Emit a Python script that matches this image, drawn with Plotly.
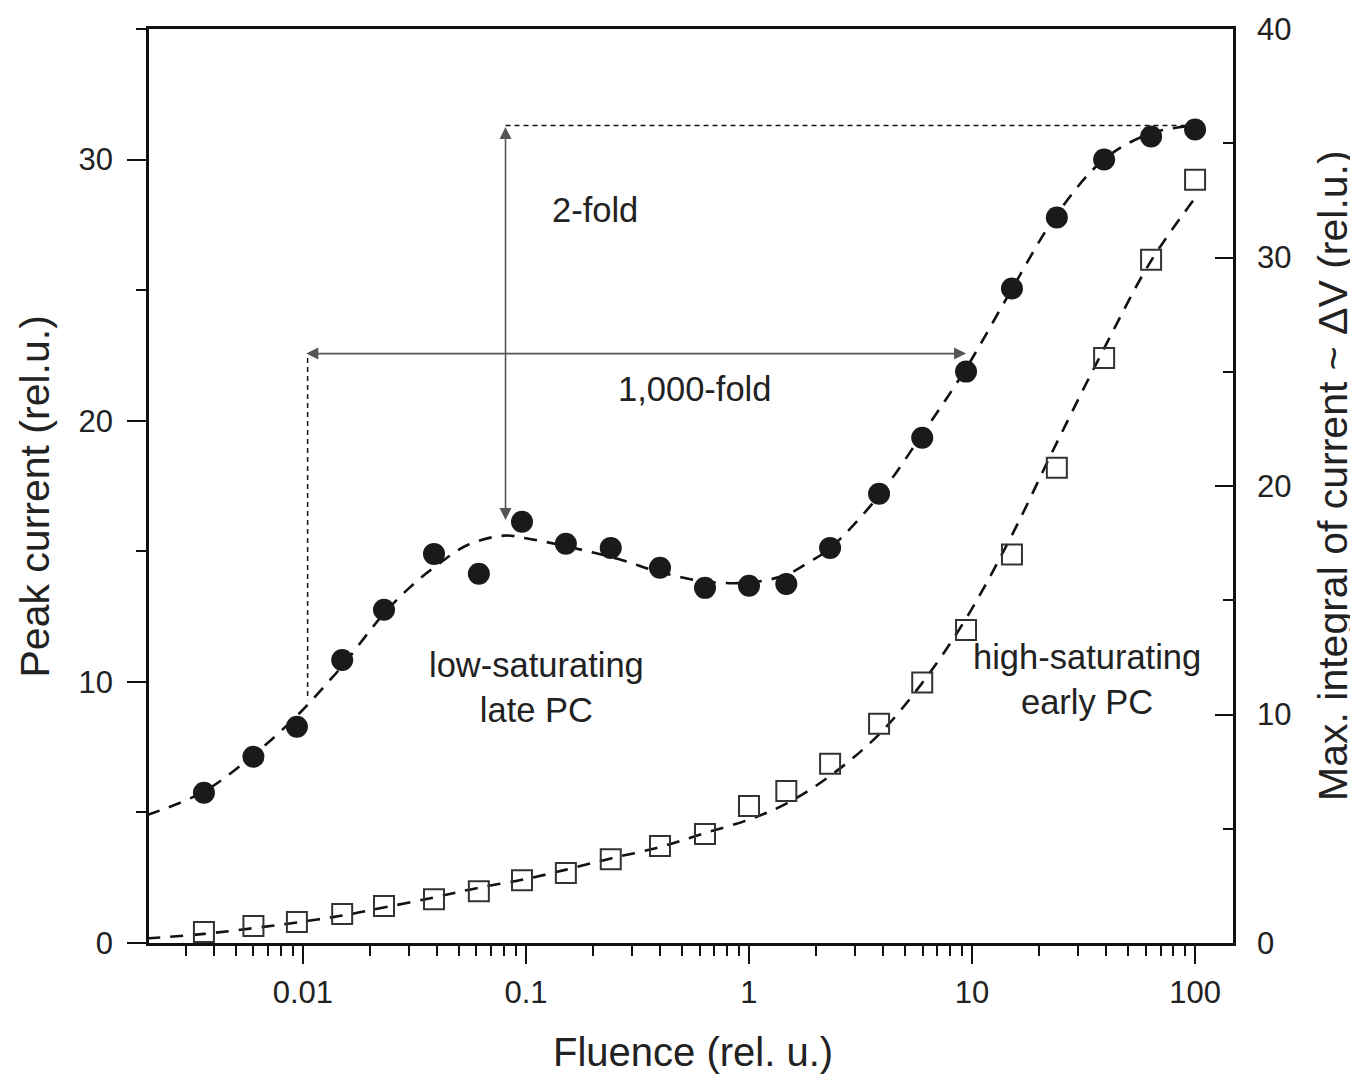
import plotly.graph_objects as go
import math

# ---------------- data ----------------
fluence = [0.0036, 0.0060, 0.0094, 0.0150, 0.0231, 0.0387, 0.0615, 0.096, 0.151, 0.240,
           0.399, 0.635, 1.0, 1.47, 2.31, 3.83, 5.98, 9.4, 15.1, 24.0, 39.1, 63.5, 100.0]
peak_current = [5.75, 7.13, 8.28, 10.84, 12.76, 14.9, 14.14, 16.13, 15.29, 15.13,
                14.37, 13.6, 13.68, 13.75, 15.13, 17.2, 19.35, 21.88, 25.06, 27.78, 30.0, 30.88, 31.15]
max_integral = [0.48, 0.74, 0.92, 1.27, 1.62, 1.92, 2.27, 2.75, 3.06, 3.67,
                4.24, 4.77, 6.0, 6.65, 7.85, 9.6, 11.4, 13.7, 17.0, 20.8, 25.6, 29.9, 33.4]

fit_peak_x = [0.002, 0.0036, 0.006, 0.0094, 0.013, 0.015, 0.023, 0.03, 0.039, 0.055, 0.08, 0.1,
              0.15, 0.26, 0.4, 0.63, 1.0, 1.47, 1.87, 2.3, 3.8, 6.0, 9.4, 15, 24, 39, 63, 100]
fit_peak_y = [4.9, 5.8, 7.2, 8.7, 10.0, 10.6, 12.6, 13.6, 14.4, 15.25, 15.6, 15.5,
              15.2, 14.7, 14.2, 13.85, 13.8, 14.1, 14.6, 15.1, 17.1, 19.5, 22.0, 25.0, 27.9, 30.0, 31.0, 31.3]

fit_int_x = [0.002, 0.0036, 0.006, 0.0094, 0.015, 0.023, 0.039, 0.06, 0.1, 0.15, 0.24, 0.4,
             0.63, 1.0, 1.47, 2.3, 3.8, 6.0, 9.4, 15, 24, 39, 63, 100]
fit_int_y = [0.2, 0.4, 0.65, 0.9, 1.2, 1.55, 2.0, 2.4, 2.8, 3.2, 3.7, 4.2,
             4.8, 5.4, 6.1, 7.3, 9.1, 11.4, 14.2, 17.8, 21.9, 26.0, 29.8, 32.6]

x_tickvals = [0.01, 0.1, 1, 10, 100]
x_ticktext = ["0.01", "0.1", "1", "10", "100"]
y_left_ticks = [0, 10, 20, 30]
y_right_ticks = [0, 10, 20, 30, 40]

# annotation guide values
twofold_x = 0.081
twofold_top = 31.3
twofold_bottom = 16.2
thousand_y = 22.57
thousand_left = 0.0102
thousand_right = 9.4
guide_h_x = [0.081, 100]
guide_h_y = [31.3, 31.3]
guide_v_x = [0.0105, 0.0105]
guide_v_y = [22.4, 9.3]

FONT = "Liberation Sans, Arial, Helvetica, sans-serif"
INK = "#222"

fig = go.Figure()

fig.add_trace(go.Scatter(x=fit_peak_x, y=fit_peak_y, mode="lines", line_shape="spline",
                         line=dict(color="#111", width=2.6, dash="13px,10px"),
                         hoverinfo="skip", showlegend=False))
fig.add_trace(go.Scatter(x=fit_int_x, y=fit_int_y, mode="lines", line_shape="spline", yaxis="y2",
                         line=dict(color="#111", width=2.6, dash="13px,10px"),
                         hoverinfo="skip", showlegend=False))
fig.add_trace(go.Scatter(x=guide_h_x, y=guide_h_y, mode="lines",
                         line=dict(color="#111", width=1.5, dash="5px,4px"), showlegend=False))
fig.add_trace(go.Scatter(x=guide_v_x, y=guide_v_y, mode="lines",
                         line=dict(color="#111", width=1.5, dash="5px,4px"), showlegend=False))
fig.add_trace(go.Scatter(x=fluence, y=peak_current, mode="markers", name="Peak current",
                         marker=dict(symbol="circle", size=22, color="#1a1a1a"), showlegend=False))
fig.add_trace(go.Scatter(x=fluence, y=max_integral, mode="markers", yaxis="y2", name="Max. integral",
                         marker=dict(symbol="square-open", size=20, color="#333",
                                     line=dict(width=2, color="#333")), showlegend=False))

lg = math.log10
arrow_common = dict(text="", showarrow=True, arrowside="end+start", arrowhead=2, startarrowhead=2,
                    arrowsize=1.5, startarrowsize=1.5, arrowwidth=1.6, arrowcolor="#555",
                    xref="x", yref="y", axref="x", ayref="y")
fig.add_annotation(x=lg(twofold_x), y=twofold_bottom, ax=lg(twofold_x), ay=twofold_top, **arrow_common)
fig.add_annotation(x=lg(thousand_right), y=thousand_y, ax=lg(thousand_left), ay=thousand_y, **arrow_common)

txt_font = dict(family=FONT, size=34.5, color=INK)
fig.add_annotation(x=lg(0.204), y=28.05, text="2-fold", showarrow=False, font=txt_font, xref="x", yref="y")
fig.add_annotation(x=lg(0.57), y=21.2, text="1,000-fold", showarrow=False, font=txt_font, xref="x", yref="y")
fig.add_annotation(x=lg(0.112), y=9.8, text="low-saturating<br>late PC", showarrow=False,
                   font=txt_font, xref="x", yref="y")
fig.add_annotation(x=lg(32.8), y=10.1, text="high-saturating<br>early PC", showarrow=False,
                   font=txt_font, xref="x", yref="y")

# axis titles
title_font = dict(family=FONT, size=41, color=INK)
fig.add_annotation(text="Peak current (rel.u.)", xref="paper", yref="paper", x=0, y=0.4885,
                   xanchor="center", yanchor="middle", xshift=-114, textangle=-90,
                   showarrow=False, font=title_font)
fig.add_annotation(text="Max. integral of current ~ ΔV (rel.u.)", xref="paper", yref="paper", x=1, y=0.511,
                   xanchor="center", yanchor="middle", xshift=100, textangle=-90,
                   showarrow=False, font=title_font)
fig.add_annotation(text="Fluence (rel. u.)", xref="paper", yref="paper", x=0.5014, y=0,
                   xanchor="center", yanchor="middle", yshift=-109,
                   showarrow=False, font=dict(family=FONT, size=40, color=INK))

minor_x = [k * 10 ** n for n in range(-3, 3) for k in range(2, 10)]

fig.update_layout(
    width=1358, height=1078,
    paper_bgcolor="white", plot_bgcolor="white",
    margin=dict(l=141, r=133, t=21, b=143, autoexpand=False),
    font=dict(family=FONT, color=INK),
    xaxis=dict(type="log", range=[-2.69, 2.17], tickvals=x_tickvals, ticktext=x_ticktext,
               showgrid=False, zeroline=False, showline=True, linecolor="#111", linewidth=2.5,
               mirror=True, ticks="outside", ticklen=18, tickwidth=2, tickcolor="#111",
               minor=dict(tickvals=minor_x, ticks="outside", ticklen=10, tickwidth=1.6, tickcolor="#111"),
               tickfont=dict(family=FONT, size=31, color=INK), ticklabelstandoff=2),
    yaxis=dict(range=[0, 35], tickvals=y_left_ticks, showgrid=False, zeroline=False,
               showline=True, linecolor="#111", linewidth=2.5,
               ticks="outside", ticklen=19, tickwidth=2, tickcolor="#111",
               minor=dict(dtick=5, tick0=0, ticks="outside", ticklen=10, tickwidth=1.6, tickcolor="#111"),
               tickfont=dict(family=FONT, size=31, color=INK), ticklabelstandoff=8),
    yaxis2=dict(range=[0, 40], tickvals=y_right_ticks, overlaying="y", side="right",
                showgrid=False, zeroline=False, showline=True, linecolor="#111", linewidth=2.5,
                ticks="inside", ticklen=18, tickwidth=2, tickcolor="#111",
                minor=dict(dtick=5, tick0=0, ticks="inside", ticklen=10, tickwidth=1.6, tickcolor="#111"),
                tickfont=dict(family=FONT, size=31, color=INK), ticklabelstandoff=15),
)

fig.write_html("out.html")
